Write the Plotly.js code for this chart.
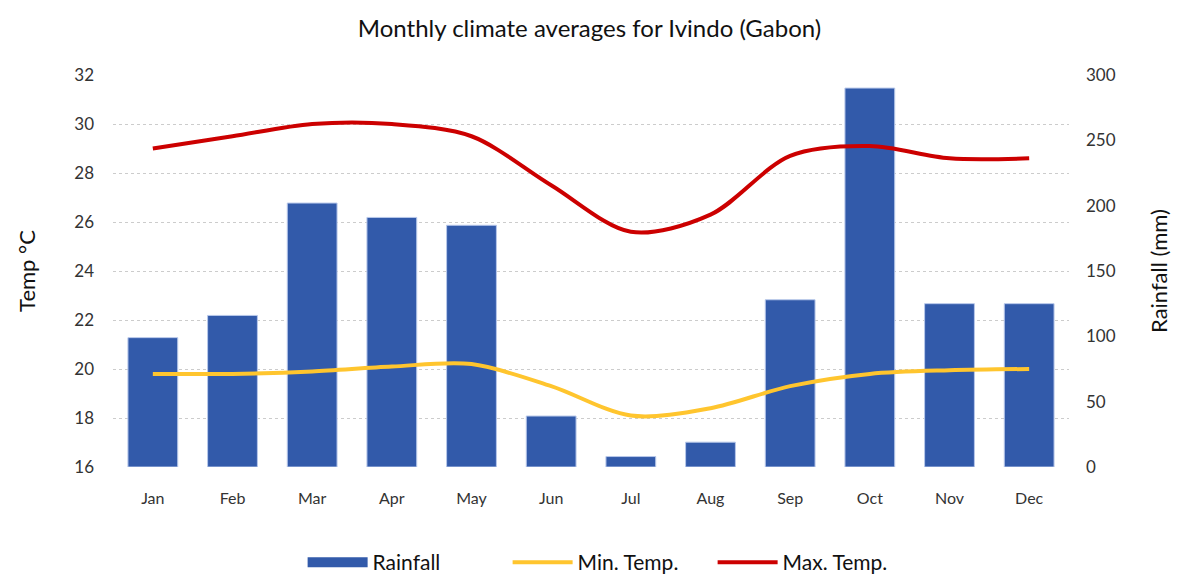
<!DOCTYPE html>
<html>
<head>
<meta charset="utf-8">
<script src="https://cdn.plot.ly/plotly-3.0.1.min.js"></script>
<style>html,body{margin:0;padding:0;background:#fff;}#chart{width:1179px;height:574px;}</style>
</head>
<body>
<div id="chart"></div>
<script>
const months = ["Jan","Feb","Mar","Apr","May","Jun","Jul","Aug","Sep","Oct","Nov","Dec"];
const rainfall = [99, 116, 202, 191, 185, 39, 8, 19, 128, 290, 125, 125];
const minTemp = [19.8, 19.8, 19.9, 20.1, 20.2, 19.3, 18.1, 18.4, 19.3, 19.8, 19.95, 20.0];
const maxTemp = [29.0, 29.5, 30.0, 30.0, 29.5, 27.5, 25.6, 26.3, 28.7, 29.1, 28.6, 28.6];
const tempTicks = [16, 18, 20, 22, 24, 26, 28, 30, 32];
const rainTicks = [0, 50, 100, 150, 200, 250, 300];

const FONT = "Lato, 'Open Sans', sans-serif";

// Base axis (y) = rainfall on the right; overlaying axis (y2) = temperature on the left,
// so the temperature lines are drawn above the bars.
const traces = [
  {
    type: "bar", name: "Rainfall", x: months, y: rainfall, yaxis: "y",
    marker: {color: "#325aaa", line: {color: "#b8c8ea", width: 1}},
    showlegend: false, hoverinfo: "x+y"
  },
  {
    type: "scatter", mode: "lines", name: "Rainfall", x: [null], y: [null], yaxis: "y",
    line: {color: "#325aaa", width: 12}, hoverinfo: "skip"
  },
  {
    type: "scatter", mode: "lines", name: "Min. Temp.", x: months, y: minTemp, yaxis: "y2",
    line: {color: "#ffc52e", width: 4, shape: "spline", smoothing: 0.9}
  },
  {
    type: "scatter", mode: "lines", name: "Max. Temp.", x: months, y: maxTemp, yaxis: "y2",
    line: {color: "#cc0000", width: 4, shape: "spline", smoothing: 0.9}
  }
];

const layout = {
  width: 1179, height: 574,
  margin: {l: 113, r: 110, t: 75, b: 107},
  paper_bgcolor: "#fff", plot_bgcolor: "#fff",
  font: {family: FONT, color: "#222", size: 16},
  title: {text: "Monthly climate averages for Ivindo (Gabon)", x: 0.5, xanchor: "center",
          yref: "container", y: 0.95, yanchor: "middle",
          font: {family: FONT, size: 24, color: "#111"}},
  bargap: 0.375,
  showlegend: true,
  legend: {orientation: "h", x: 0.52, xanchor: "center", yref: "container", y: 0.02, yanchor: "middle",
           font: {family: FONT, size: 21, color: "#111"}, itemwidth: 60, traceorder: "normal",
           entrywidth: 130, entrywidthmode: "pixels"},
  xaxis: {
    type: "category", showgrid: false, zeroline: false, showline: false, ticks: "",
    tickfont: {family: FONT, size: 16, color: "#333"}, ticklabelstandoff: 20
  },
  yaxis: {
    range: [0, 300], tickvals: rainTicks, ticktext: rainTicks.map(String),
    side: "right", showgrid: false, zeroline: false, showline: false, ticks: "",
    ticklabelstandoff: 16,
    tickfont: {family: FONT, size: 17, color: "#333"},
    title: {text: "Rainfall (mm)", font: {family: FONT, size: 22, color: "#111"}, standoff: 36}
  },
  yaxis2: {
    range: [16, 32], tickvals: tempTicks, ticktext: tempTicks.map(String),
    overlaying: "y", side: "left",
    showgrid: true, gridcolor: "#cccccc", griddash: "dot", gridwidth: 1,
    zeroline: false, showline: false, ticks: "", ticklabelstandoff: 18,
    tickfont: {family: FONT, size: 17, color: "#333"},
    title: {text: "Temp °C", font: {family: FONT, size: 22, color: "#111"}, standoff: 32}
  }
};

Plotly.newPlot("chart", traces, layout, {displayModeBar: false, responsive: false});
</script>
</body>
</html>
